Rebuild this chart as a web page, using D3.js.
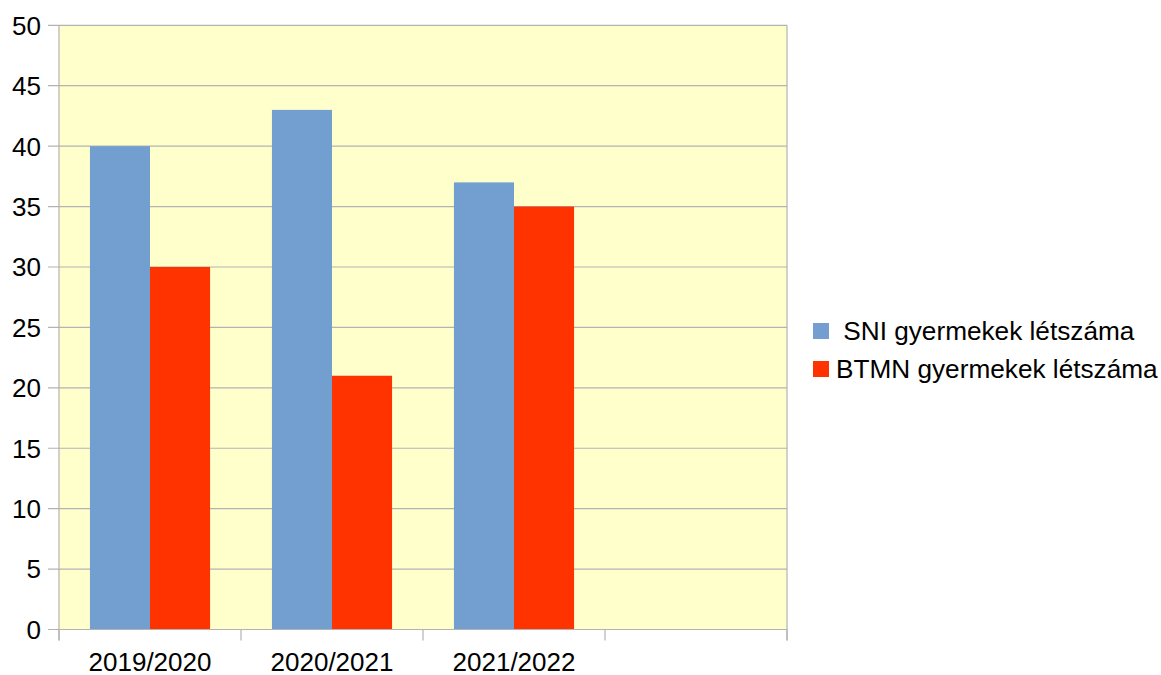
<!DOCTYPE html>
<html><head><meta charset="utf-8">
<script src="https://cdn.jsdelivr.net/npm/d3@7"></script>
<style>
html,body{margin:0;padding:0;background:#fff;}
svg text{font-family:"Liberation Sans",Arial,sans-serif;}
</style></head>
<body>
<svg id="chart" width="1161" height="675"></svg>
<script>
const categories = ["2019/2020", "2020/2021", "2021/2022", ""];
const seriesNames = [" SNI gyermekek létszáma", "BTMN gyermekek létszáma"];
const sniValues = [40, 43, 37, null];
const btmnValues = [30, 21, 35, null];
const yTicks = [0, 5, 10, 15, 20, 25, 30, 35, 40, 45, 50];
const colors = ["#729fcf", "#ff3300"];

const svg = d3.select("#chart");
const mLeft = 59, mRight = 787, mTop = 25.3, mBottom = 629.5;

const x0 = d3.scaleBand().domain(d3.range(categories.length)).range([mLeft, mRight]).padding(0);
const x1 = d3.scaleBand().domain([0, 1]).range([0, x0.bandwidth()]).paddingInner(0).paddingOuter(0.515);
const y = d3.scaleLinear().domain([0, 50]).range([mBottom, mTop]);

// plot background
svg.append("rect").attr("x", mLeft).attr("y", mTop).attr("width", mRight - mLeft).attr("height", mBottom - mTop).attr("fill", "#ffffcc");

// gridlines
svg.append("g").selectAll("line").data(yTicks).join("line")
  .attr("x1", mLeft - 11).attr("x2", mRight)
  .attr("y1", d => y(d)).attr("y2", d => y(d))
  .attr("stroke", "#b3b3b3").attr("stroke-width", 1.2);

// right border
svg.append("line").attr("x1", mRight).attr("x2", mRight).attr("y1", mTop).attr("y2", mBottom + 11)
  .attr("stroke", "#b3b3b3").attr("stroke-width", 1.2);

// bars
const series = [sniValues, btmnValues];
series.forEach((vals, si) => {
  svg.append("g").selectAll("rect").data(vals.map((v, i) => ({v, i})).filter(d => d.v != null)).join("rect")
    .attr("x", d => x0(d.i) + x1(si))
    .attr("width", x1.bandwidth())
    .attr("y", d => y(d.v))
    .attr("height", d => y(0) - y(d.v))
    .attr("fill", colors[si]);
});

// y axis line
svg.append("line").attr("x1", mLeft).attr("x2", mLeft).attr("y1", mTop).attr("y2", mBottom + 11)
  .attr("stroke", "#b3b3b3").attr("stroke-width", 1.2);
// x axis line
svg.append("line").attr("x1", mLeft - 11).attr("x2", mRight).attr("y1", mBottom).attr("y2", mBottom)
  .attr("stroke", "#b3b3b3").attr("stroke-width", 1.2);
// x ticks at band boundaries
const bounds = d3.range(categories.length + 1).map(i => i < categories.length ? x0(i) : mRight);
svg.append("g").selectAll("line").data(bounds).join("line")
  .attr("x1", d => d).attr("x2", d => d).attr("y1", mBottom).attr("y2", mBottom + 11)
  .attr("stroke", "#b3b3b3").attr("stroke-width", 1.2);

// y tick labels
svg.append("g").selectAll("text").data(yTicks).join("text")
  .attr("x", 41).attr("y", d => y(d)).attr("dy", "0.36em")
  .attr("text-anchor", "end").attr("font-size", 26).attr("fill", "#000")
  .text(d => d);

// x labels
svg.append("g").selectAll("text").data(categories).join("text")
  .attr("x", (d, i) => x0(i) + x0.bandwidth() / 2).attr("y", 671)
  .attr("text-anchor", "middle").attr("font-size", 26).attr("fill", "#000")
  .text(d => d);

// legend
const lg = svg.append("g");
seriesNames.forEach((name, i) => {
  const yy = 323 + i * 38;
  lg.append("rect").attr("x", 813).attr("y", yy).attr("width", 16).attr("height", 16).attr("fill", colors[i]);
  lg.append("text").attr("x", 836).attr("y", yy + 17).attr("font-size", 26.2).attr("fill", "#000")
    .attr("xml:space", "preserve").style("white-space", "pre").text(name);
});
</script>
</body></html>
